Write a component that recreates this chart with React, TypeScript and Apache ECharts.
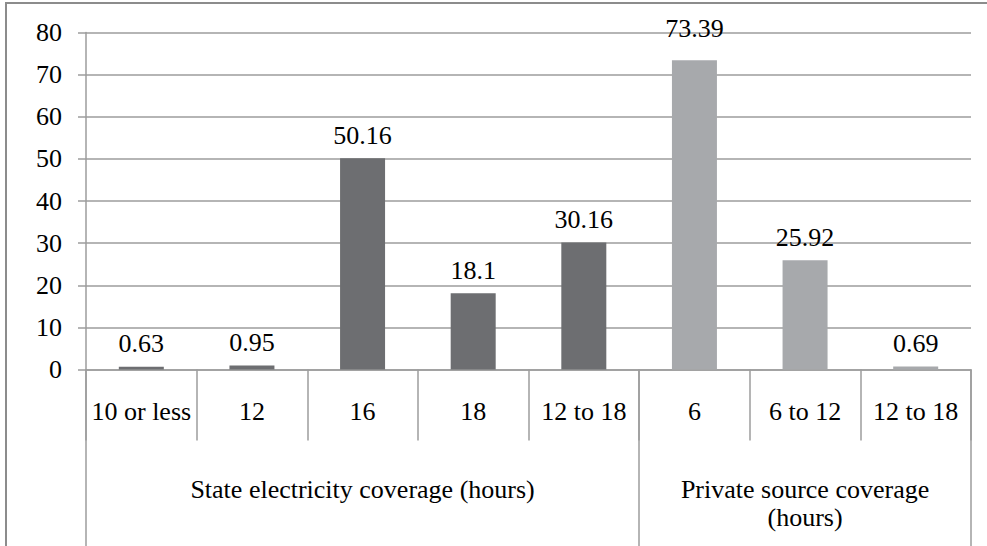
import React, { useEffect, useRef } from "react";
import * as echarts from "echarts";

const categories = ["10 or less", "12", "16", "18", "12 to 18", "6", "6 to 12", "12 to 18"];
const values = [0.63, 0.95, 50.16, 18.1, 30.16, 73.39, 25.92, 0.69];
const groupLabels = ["State electricity coverage (hours)", "Private source coverage\n(hours)"];
const groupSizes = [5, 3];
const yTicks = [0, 10, 20, 30, 40, 50, 60, 70, 80];

const DARK = "#6d6e71";
const LIGHT = "#a7a9ac";
const LINE = "#9d9d9d";
const FONT = "Liberation Serif";
const FS = 26;

export default function App() {
  const ref = useRef<HTMLDivElement>(null);
  useEffect(() => {
    document.body.style.margin = "0";
    const chart = echarts.init(ref.current!, null, { renderer: "svg" });
    const total = categories.length;
    const bounds: number[] = [0];
    groupSizes.forEach((s) => bounds.push(bounds[bounds.length - 1] + s));
    const centers: number[] = [];
    for (let g = 0; g < groupSizes.length; g++) centers.push((bounds[g] + bounds[g + 1]) / 2);

    chart.setOption({
      animation: false,
      backgroundColor: "#fff",
      textStyle: { fontFamily: FONT },
      grid: { left: 86, right: 16, top: 32.5, bottom: 176.5, containLabel: false, outerBoundsMode: "none" },
      xAxis: [
        {
          type: "category",
          data: categories.map((_, i) => "c" + i),
          boundaryGap: true,
          position: "bottom",
          axisLine: { show: true, lineStyle: { color: LINE, width: 1.5 } },
          axisTick: { show: true, interval: 0, length: 71, lineStyle: { color: LINE, width: 1.5 } },
          axisLabel: {
            interval: 0,
            margin: 29,
            fontSize: FS,
            color: "#000",
            fontFamily: FONT,
            formatter: (_v: string, i: number) => categories[i],
          },
          splitLine: { show: false },
        },
        {
          type: "value",
          min: 0,
          max: total,
          position: "bottom",
          offset: 0,
          axisLine: { show: false },
          splitLine: { show: false },
          axisTick: { show: true, customValues: bounds, length: 177, lineStyle: { color: LINE, width: 1.5 } },
          axisLabel: {
            show: true,
            customValues: centers,
            margin: 106,
            fontSize: FS,
            lineHeight: 28,
            color: "#000",
            fontFamily: FONT,
            align: "center",
            formatter: (v: number) => {
              const idx = centers.findIndex((c) => Math.abs(c - v) < 1e-6);
              return idx >= 0 ? groupLabels[idx] : "";
            },
          },
        },
      ],
      yAxis: {
        type: "value",
        min: yTicks[0],
        max: yTicks[yTicks.length - 1],
        interval: 10,
        axisLine: { show: true, lineStyle: { color: LINE, width: 1.5 } },
        axisTick: { show: true, length: 8, lineStyle: { color: LINE, width: 1.5 } },
        axisLabel: { margin: 24, fontSize: FS, color: "#000", fontFamily: FONT },
        splitLine: { show: true, lineStyle: { color: LINE, width: 1.5 } },
      },
      graphic: [
        {
          type: "rect",
          shape: { x: 6, y: 3, width: 1000, height: 600 },
          style: { fill: "none", stroke: "#8c8c8c", lineWidth: 2 },
          silent: true,
          z: 100,
        },
      ],
      series: [
        {
          type: "bar",
          xAxisIndex: 0,
          yAxisIndex: 0,
          barWidth: 45,
          data: values.map((v, i) => ({
            value: v,
            itemStyle: { color: i < groupSizes[0] ? DARK : LIGHT },
            label: i === 5 ? { distance: 19 } : undefined,
          })),
          label: {
            show: true,
            position: "top",
            distance: 10,
            fontSize: FS,
            color: "#000",
            fontFamily: FONT,
          },
        },
      ],
    });
    return () => chart.dispose();
  }, []);
  return <div ref={ref} style={{ position: "fixed", left: 0, top: 0, width: 987, height: 546 }} />;
}
